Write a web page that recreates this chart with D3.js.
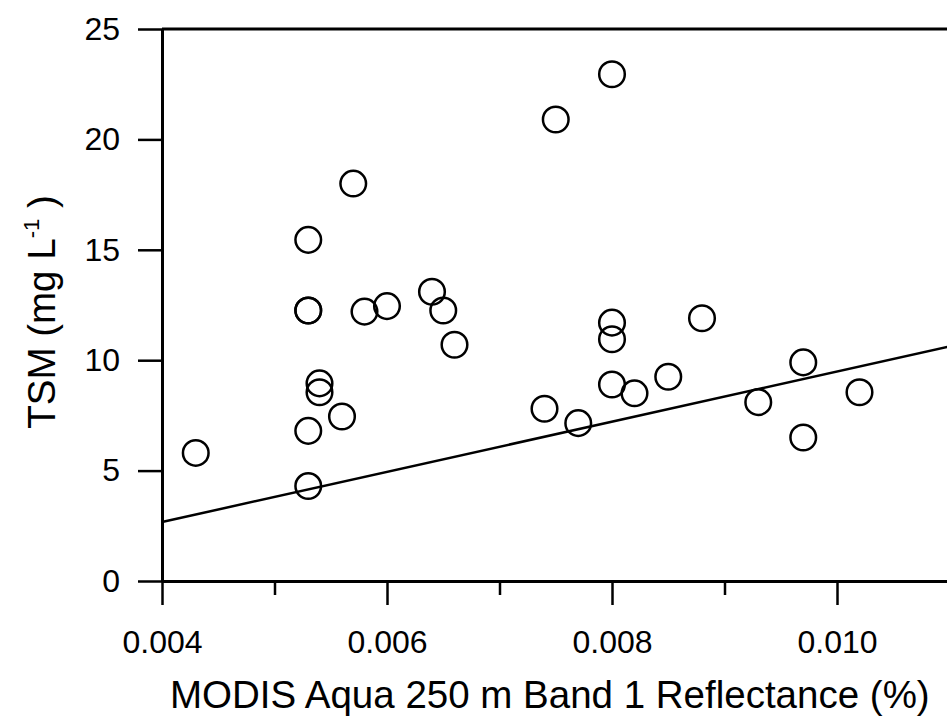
<!DOCTYPE html>
<html>
<head>
<meta charset="utf-8">
<script src="https://cdn.jsdelivr.net/npm/d3@7"></script>
<style>
  body { margin: 0; background: #fff; }
  svg { display: block; }
  text { font-family: "Liberation Sans", Arial, sans-serif; fill: #000; }
</style>
</head>
<body>
<div id="chart"></div>
<script>
// reflectance (x) and TSM (y)
var reflectance = [0.0043, 0.0053, 0.0053, 0.0053, 0.0053, 0.0053, 0.0054, 0.0054, 0.0056, 0.0057,
                   0.0058, 0.0060, 0.0064, 0.0065, 0.0066, 0.0074, 0.0075, 0.0077, 0.0080, 0.0080,
                   0.0080, 0.0080, 0.0082, 0.0085, 0.0088, 0.0093, 0.0097, 0.0097, 0.0102];
var tsm = [5.8, 4.3, 6.8, 12.25, 15.45, 12.25, 8.95, 8.55, 7.45, 18.0,
           12.2, 12.45, 13.1, 12.25, 10.7, 7.8, 20.9, 7.15, 22.95, 11.7,
           10.95, 8.9, 8.5, 9.25, 11.9, 8.1, 9.9, 6.5, 8.55];
// fitted line y = slope * x + intercept
var fitSlope = 1136;
var fitIntercept = -1.874;

var xMajorTicks = [0.004, 0.006, 0.008, 0.010];
var xMinorTicks = [0.005, 0.007, 0.009];
var yTicks = [0, 5, 10, 15, 20, 25];

var width = 947, height = 721;
var xScale = d3.scaleLinear().domain([0.004, 0.011]).range([162, 949.5]);
var yScale = d3.scaleLinear().domain([0, 25]).range([581, 29]);

var svg = d3.select("#chart").append("svg")
    .attr("width", width)
    .attr("height", height);

// frame top and right
svg.append("line")
    .attr("x1", xScale(0.004)).attr("x2", xScale(0.011))
    .attr("y1", yScale(25)).attr("y2", yScale(25))
    .style("stroke", "#000").style("stroke-width", 3);
svg.append("line")
    .attr("x1", xScale(0.011)).attr("x2", xScale(0.011))
    .attr("y1", yScale(25)).attr("y2", yScale(0))
    .style("stroke", "#000").style("stroke-width", 3);

// regression line
var fitLine = d3.line()
    .x(function (d) { return xScale(d); })
    .y(function (d) { return yScale(fitSlope * d + fitIntercept); });
svg.append("path")
    .datum(xScale.domain())
    .attr("d", fitLine)
    .style("fill", "none")
    .style("stroke", "#000")
    .style("stroke-width", 2.5);

// points
svg.append("g").selectAll("circle")
    .data(reflectance)
    .join("circle")
    .attr("cx", function (d) { return xScale(d); })
    .attr("cy", function (d, i) { return yScale(tsm[i]); })
    .attr("r", 12.8)
    .style("fill", "none")
    .style("stroke", "#000")
    .style("stroke-width", 2.5);

function styleAxis(g) {
    g.selectAll("path.domain").style("stroke", "#000").style("stroke-width", 3);
    g.selectAll(".tick line").style("stroke", "#000").style("stroke-width", 2.5);
    g.selectAll(".tick text").style("font-size", "32px").style("font-family", "Liberation Sans, Arial, sans-serif");
}

// x axis, major + minor ticks
var xAxisGroup = svg.append("g")
    .attr("transform", "translate(0," + yScale(0) + ")")
    .call(d3.axisBottom(xScale).tickValues(xMajorTicks).tickSize(24).tickSizeOuter(0)
        .tickPadding(25).tickFormat(d3.format(".3f")));
styleAxis(xAxisGroup);

var xMinorGroup = svg.append("g")
    .attr("transform", "translate(0," + yScale(0) + ")")
    .call(d3.axisBottom(xScale).tickValues(xMinorTicks).tickSize(14).tickSizeOuter(0)
        .tickFormat(""));
styleAxis(xMinorGroup);
xMinorGroup.select("path.domain").remove();

// y axis
var yAxisGroup = svg.append("g")
    .attr("transform", "translate(" + xScale(0.004) + ",0)")
    .call(d3.axisLeft(yScale).tickValues(yTicks).tickSize(24).tickSizeOuter(0)
        .tickPadding(18).tickFormat(d3.format("d")));
styleAxis(yAxisGroup);

// axis titles
svg.append("text")
    .attr("x", 170)
    .attr("y", 708)
    .style("font-size", "38.5px")
    .text("MODIS Aqua 250 m Band 1 Reflectance (%)");

var yTitle = svg.append("text")
    .attr("transform", "translate(55,312) rotate(-90)")
    .attr("text-anchor", "middle")
    .style("font-size", "38.5px");
yTitle.append("tspan").text("TSM (mg L");
yTitle.append("tspan").attr("dy", -16).style("font-size", "22px").text("-1");
yTitle.append("tspan").attr("dy", 16).text(" )");
</script>
</body>
</html>
